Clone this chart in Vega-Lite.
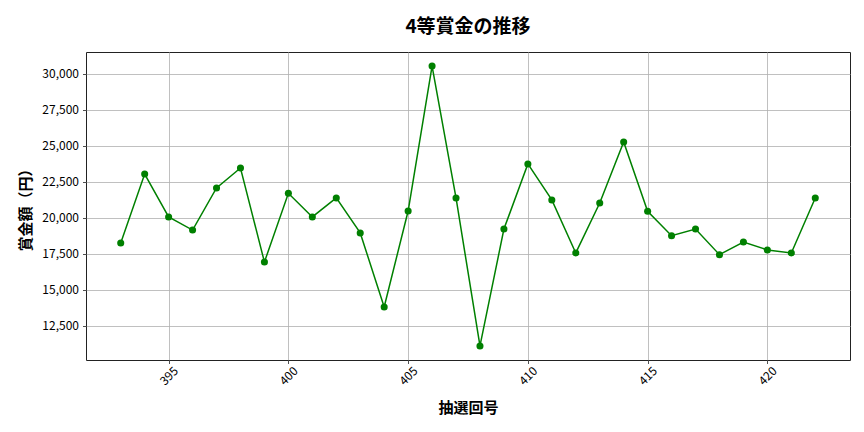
{
  "$schema": "https://vega.github.io/schema/vega-lite/v6.json",
  "autosize": "none",
  "width": 764,
  "height": 308,
  "padding": {"left": 86, "top": 52, "right": 14, "bottom": 72},
  "background": "white",
  "title": {
    "text": "4等賞金の推移",
    "font": "Noto Sans CJK JP",
    "fontSize": 19,
    "fontWeight": "bold",
    "color": "black",
    "anchor": "middle",
    "offset": 15
  },
  "data": {
    "values": [
      {"draw": 393, "prize": 18240},
      {"draw": 394, "prize": 23030},
      {"draw": 395, "prize": 20050},
      {"draw": 396, "prize": 19140},
      {"draw": 397, "prize": 22060},
      {"draw": 398, "prize": 23450},
      {"draw": 399, "prize": 16920},
      {"draw": 400, "prize": 21690},
      {"draw": 401, "prize": 20050},
      {"draw": 402, "prize": 21370},
      {"draw": 403, "prize": 18940},
      {"draw": 404, "prize": 13800},
      {"draw": 405, "prize": 20460},
      {"draw": 406, "prize": 30530},
      {"draw": 407, "prize": 21370},
      {"draw": 408, "prize": 11090},
      {"draw": 409, "prize": 19210},
      {"draw": 410, "prize": 23730},
      {"draw": 411, "prize": 21230},
      {"draw": 412, "prize": 17550},
      {"draw": 413, "prize": 21020},
      {"draw": 414, "prize": 25260},
      {"draw": 415, "prize": 20440},
      {"draw": 416, "prize": 18750},
      {"draw": 417, "prize": 19210},
      {"draw": 418, "prize": 17430},
      {"draw": 419, "prize": 18310},
      {"draw": 420, "prize": 17760},
      {"draw": 421, "prize": 17550},
      {"draw": 422, "prize": 21370}
    ]
  },
  "encoding": {
    "x": {
      "field": "draw",
      "type": "quantitative",
      "title": "抽選回号",
      "scale": {"domain": [391.55, 423.45], "nice": false, "zero": false},
      "axis": {
        "values": [395, 400, 405, 410, 415, 420],
        "labelAngle": -45,
        "labelAlign": "center",
        "labelBaseline": "middle",
        "labelPadding": 12,
        "titlePadding": 14
      }
    },
    "y": {
      "field": "prize",
      "type": "quantitative",
      "title": "賞金額（円）",
      "scale": {"domain": [10116, 31504], "nice": false, "zero": false},
      "axis": {
        "values": [12500, 15000, 17500, 20000, 22500, 25000, 27500, 30000],
        "format": ",d",
        "titlePadding": 8
      }
    }
  },
  "layer": [
    {
      "mark": {"type": "line", "color": "#008000", "strokeWidth": 1.5}
    },
    {
      "mark": {"type": "point", "filled": true, "color": "#008000", "size": 50, "opacity": 1}
    }
  ],
  "config": {
    "font": "Noto Sans CJK JP",
    "view": {"stroke": "#222222", "strokeWidth": 1},
    "axis": {
      "grid": true,
      "gridColor": "#b0b0b0",
      "gridWidth": 0.8,
      "domain": false,
      "tickColor": "#222222",
      "tickSize": 3.5,
      "tickWidth": 0.8,
      "labelFont": "Noto Sans CJK JP",
      "labelFontSize": 12,
      "labelColor": "black",
      "labelPadding": 4,
      "titleFont": "Noto Sans CJK JP",
      "titleFontSize": 15,
      "titleFontWeight": "bold",
      "titleColor": "black"
    }
  }
}
